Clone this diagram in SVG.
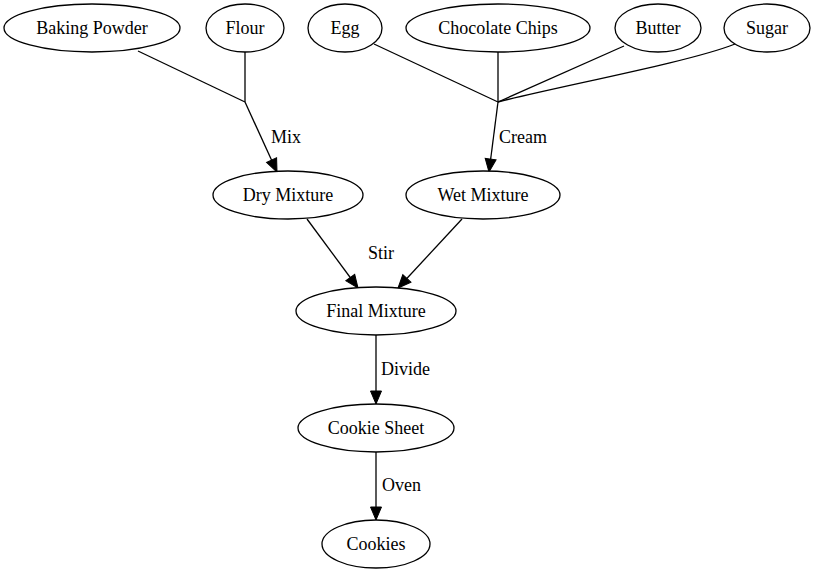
<svg xmlns="http://www.w3.org/2000/svg" width="814" height="573" viewBox="0 0 814 573">
<style>
.n ellipse{fill:#fff;stroke:#000;stroke-width:1.3}
text{font-family:"Liberation Serif","Times New Roman",serif;font-size:18px;fill:#000}
.n text{text-anchor:middle}
.e path,.e line{fill:none;stroke:#000;stroke-width:1.3}
</style>
<defs>
<marker id="ah" markerUnits="userSpaceOnUse" markerWidth="14" markerHeight="12" refX="13" refY="5.5" orient="auto" overflow="visible">
<path d="M0,0 L13,5.5 L0,11 z" fill="#000" stroke="#000" stroke-width="1"/>
</marker>
</defs>
<rect width="814" height="573" fill="#fff"/>
<g id="edges" class="e">
<line x1="138" y1="51" x2="245" y2="102"/>
<line x1="245" y1="52" x2="245" y2="102"/>
<line x1="245" y1="102" x2="277" y2="172" marker-end="url(#ah)"/>
<line x1="374" y1="44" x2="498" y2="102"/>
<line x1="498" y1="52" x2="498" y2="102"/>
<line x1="624" y1="46" x2="498" y2="102"/>
<path d="M735,44 C690,62 560,86 498,102"/>
<line x1="498" y1="102" x2="489" y2="172" marker-end="url(#ah)"/>
<line x1="307" y1="219" x2="358" y2="288" marker-end="url(#ah)"/>
<line x1="462" y1="219" x2="398" y2="288" marker-end="url(#ah)"/>
<line x1="376" y1="335" x2="376" y2="404" marker-end="url(#ah)"/>
<line x1="376" y1="452" x2="376" y2="520" marker-end="url(#ah)"/>
<text x="271" y="143">Mix</text>
<text x="499" y="143">Cream</text>
<text x="368" y="259">Stir</text>
<text x="381" y="375">Divide</text>
<text x="382" y="491">Oven</text>
</g>
<g id="baking_powder" class="n"><ellipse cx="92" cy="28" rx="88" ry="24"/><text x="92" y="34">Baking Powder</text></g>
<g id="flour" class="n"><ellipse cx="245" cy="28" rx="39" ry="24"/><text x="245" y="34">Flour</text></g>
<g id="egg" class="n"><ellipse cx="345" cy="28" rx="37" ry="24"/><text x="345" y="34">Egg</text></g>
<g id="chocolate_chips" class="n"><ellipse cx="498" cy="28" rx="92" ry="24"/><text x="498" y="34">Chocolate Chips</text></g>
<g id="butter" class="n"><ellipse cx="658" cy="28" rx="43" ry="24"/><text x="658" y="34">Butter</text></g>
<g id="sugar" class="n"><ellipse cx="767" cy="28" rx="43" ry="24"/><text x="767" y="34">Sugar</text></g>
<g id="dry_mixture" class="n"><ellipse cx="288" cy="195" rx="75" ry="24"/><text x="288" y="201">Dry Mixture</text></g>
<g id="wet_mixture" class="n"><ellipse cx="483" cy="195" rx="77" ry="24"/><text x="483" y="201">Wet Mixture</text></g>
<g id="final_mixture" class="n"><ellipse cx="376" cy="311" rx="80" ry="24"/><text x="376" y="317">Final Mixture</text></g>
<g id="cookie_sheet" class="n"><ellipse cx="376" cy="428" rx="78" ry="24"/><text x="376" y="434">Cookie Sheet</text></g>
<g id="cookies" class="n"><ellipse cx="376" cy="544" rx="54" ry="24"/><text x="376" y="550">Cookies</text></g>
</svg>
